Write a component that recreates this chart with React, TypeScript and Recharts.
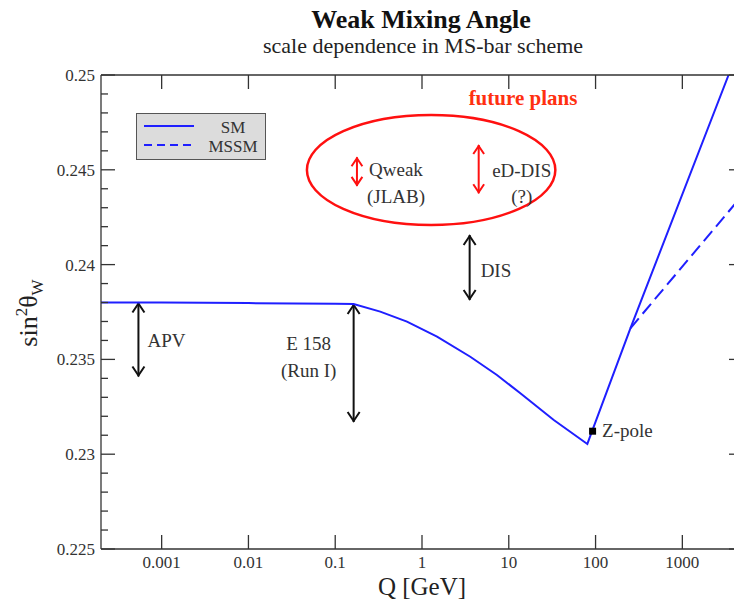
import React from 'react';
import {
  ComposedChart,
  Line,
  Scatter,
  XAxis,
  YAxis,
  ReferenceLine,
  ReferenceArea,
  Legend,
} from 'recharts';

// running sin^2 theta_W (SM)
const smQ = [0.0002, 0.001, 0.01, 0.1, 0.163, 0.33, 0.671, 1.49, 3.6, 7.3, 13.6, 33, 80.4, 91.19, 252, 3410];
const smV = [0.238, 0.238, 0.23797, 0.23793, 0.23792, 0.23752, 0.23699, 0.2362, 0.23514, 0.23418, 0.23321, 0.2318, 0.23054, 0.23122, 0.23664, 0.25];

// MSSM branch above the kink
const mssmQ = [252, 5000];
const mssmV = [0.23664, 0.2437];

// Z-pole point
const zQ = [91.19];
const zV = [0.23124];

// measurement arrows: APV, E158, DIS, Qweak, eD-DIS
const arrowQ = [0.00054, 0.163, 3.54, 0.178, 4.5];
const arrowLo = [0.2341, 0.2317, 0.23813, 0.24415, 0.24376];
const arrowHi = [0.238, 0.23792, 0.24156, 0.24566, 0.24631];

// "future plans" ellipse extent
const planQ = [0.0472, 34.4];
const planV = [0.24209, 0.24789];

const xTicks = [0.001, 0.01, 0.1, 1, 10, 100, 1000];
const xTickLabels = ['0.001', '0.01', '0.1', '1', '10', '100', '1000'];
const yMajor = [0.225, 0.23, 0.235, 0.24, 0.245, 0.25];
const yTickLabels = ['0.225', '0.23', '0.235', '0.24', '0.245', '0.25'];
const yMinor = [
  0.226, 0.227, 0.228, 0.229, 0.231, 0.232, 0.233, 0.234, 0.236, 0.237,
  0.238, 0.239, 0.241, 0.242, 0.243, 0.244, 0.246, 0.247, 0.248, 0.249,
];
const seriesOrder = ['SM', 'MSSM'];

const smData = smQ.map((q, i) => ({ q, v: smV[i] }));
const mssmData = mssmQ.map((q, i) => ({ q, v: mssmV[i] }));
const zData = zQ.map((q, i) => ({ q, v: zV[i] }));

const SERIF = '"Liberation Serif", "Times New Roman", serif';
const BLUE = '#1f1fff';
const RED = '#ff1010';
const INK = '#333';
const X_DOMAIN = [0.0002, 5000];
const Y_DOMAIN = [0.225, 0.25];

// inward frame-tick length (~14px) expressed in axis units
const TICK_DV = 0.00074;
const TICK_QF = 1.45;

type Lbl = { t: string; dx: number; dy: number; anchor: 'start' | 'middle' };

const arrowLabels: Lbl[][] = [
  [{ t: 'APV', dx: 9, dy: 1, anchor: 'start' }],
  [
    { t: 'E 158', dx: -45, dy: -20, anchor: 'middle' },
    { t: '(Run I)', dx: -45, dy: 7, anchor: 'middle' },
  ],
  [{ t: 'DIS', dx: 11, dy: 3, anchor: 'start' }],
  [
    { t: 'Qweak', dx: 39, dy: -2, anchor: 'middle' },
    { t: '(JLAB)', dx: 39, dy: 25, anchor: 'middle' },
  ],
  [
    { t: 'eD-DIS', dx: 43, dy: 1, anchor: 'middle' },
    { t: '(?)', dx: 43, dy: 27, anchor: 'middle' },
  ],
];
const arrowColors = ['#111', '#111', '#111', RED, RED];

const arrowShape = (color: string, labels: Lbl[], head: number) => (p: any) => {
  const x = p.x1;
  const top = Math.min(p.y1, p.y2);
  const bot = Math.max(p.y1, p.y2);
  const mid = (top + bot) / 2;
  return (
    <g>
      <line x1={x} x2={x} y1={top} y2={bot} stroke={color} strokeWidth={2} />
      <polyline
        points={`${x - head * 0.6},${top + head} ${x},${top + 1} ${x + head * 0.6},${top + head}`}
        fill="none"
        stroke={color}
        strokeWidth={2}
      />
      <polyline
        points={`${x - head * 0.6},${bot - head} ${x},${bot - 1} ${x + head * 0.6},${bot - head}`}
        fill="none"
        stroke={color}
        strokeWidth={2}
      />
      {labels.map((l) => (
        <text
          key={l.t}
          x={x + l.dx}
          y={mid + l.dy}
          dy="0.35em"
          textAnchor={l.anchor}
          fontFamily={SERIF}
          fontSize={19}
          fill={INK}
        >
          {l.t}
        </text>
      ))}
    </g>
  );
};

const LeftTick = (props: any) => {
  const { x, y, payload } = props;
  const idx = yMajor.findIndex((m) => Math.abs(m - payload.value) < 1e-9);
  const major = idx >= 0;
  return (
    <g>
      <line x1={x} y1={y} x2={x + (major ? 14 : 7)} y2={y} stroke={INK} strokeWidth={1.3} />
      {major && (
        <text x={x - 6} y={y} dy="0.35em" textAnchor="end" fontFamily={SERIF} fontSize={17} fill={INK}>
          {yTickLabels[idx]}
        </text>
      )}
    </g>
  );
};

const LegendBox = (props: any) => {
  const items = (props.payload || [])
    .filter((e: any) => seriesOrder.includes(e.value))
    .sort((a: any, b: any) => seriesOrder.indexOf(a.value) - seriesOrder.indexOf(b.value));
  return (
    <svg width={130} height={47} style={{ display: 'block' }}>
      <rect x={0.5} y={0.5} width={129} height={46} fill="#dcdcdc" stroke="#555" strokeWidth={1} />
      {items.map((e: any, i: number) => (
        <g key={e.value}>
          <line
            x1={8}
            x2={58}
            y1={13 + i * 19}
            y2={13 + i * 19}
            stroke={BLUE}
            strokeWidth={2}
            strokeDasharray={e.payload && e.payload.strokeDasharray ? '8 5' : undefined}
          />
          <text x={97} y={14 + i * 19} dy="0.33em" textAnchor="middle" fontFamily={SERIF} fontSize={17} fill={INK}>
            {e.value}
          </text>
        </g>
      ))}
    </svg>
  );
};

export default function App() {
  return (
    <div style={{ position: 'fixed', left: 0, top: 0, width: 734, height: 601, overflow: 'hidden', background: '#fff' }}>
      <ComposedChart
        width={744}
        height={601}
        data={smData}
        margin={{ top: 74, right: 0, bottom: 0, left: 0 }}
      >
        <XAxis
          dataKey="q"
          type="number"
          scale="log"
          domain={X_DOMAIN}
          allowDataOverflow
          ticks={xTicks}
          interval={0}
          tickFormatter={(v: number) => xTickLabels[xTicks.indexOf(v)] ?? String(v)}
          height={52}
          tickSize={-14}
          tickMargin={21}
          stroke={INK}
          strokeWidth={1.3}
          tick={{ fontSize: 17, fontFamily: SERIF, fill: INK }}
        />
        <XAxis
          xAxisId="top"
          dataKey="q"
          orientation="top"
          type="number"
          scale="log"
          domain={X_DOMAIN}
          allowDataOverflow
          height={1}
          tick={false}
          tickLine={false}
          stroke={INK}
          strokeWidth={1.3}
        />
        <YAxis
          type="number"
          domain={Y_DOMAIN}
          allowDataOverflow
          ticks={[...yMajor, ...yMinor].sort((a, b) => a - b)}
          interval={0}
          width={101}
          tickSize={0}
          tickMargin={0}
          tickLine={false}
          tick={<LeftTick />}
          stroke={INK}
          strokeWidth={1.3}
        />
        <YAxis
          yAxisId="r"
          dataKey="v"
          orientation="right"
          type="number"
          domain={Y_DOMAIN}
          allowDataOverflow
          width={1}
          tick={false}
          tickLine={false}
          stroke={INK}
          strokeWidth={1.3}
        />

        {/* mirrored major ticks on the top and right frame */}
        {xTicks.map((q) => (
          <ReferenceLine
            key={`tx${q}`}
            segment={[
              { x: q, y: Y_DOMAIN[1] },
              { x: q, y: Y_DOMAIN[1] - TICK_DV },
            ]}
            ifOverflow="visible"
            stroke={INK}
            strokeWidth={1.3}
          />
        ))}
        {yMajor.map((v) => (
          <ReferenceLine
            key={`ty${v}`}
            segment={[
              { x: X_DOMAIN[1], y: v },
              { x: X_DOMAIN[1] / TICK_QF, y: v },
            ]}
            ifOverflow="visible"
            stroke={INK}
            strokeWidth={1.3}
          />
        ))}

        <ReferenceArea
          x1={planQ[0]}
          x2={planQ[1]}
          y1={planV[0]}
          y2={planV[1]}
          ifOverflow="visible"
          shape={(p: any) => (
            <ellipse
              cx={p.x + p.width / 2}
              cy={p.y + p.height / 2}
              rx={p.width / 2}
              ry={p.height / 2}
              fill="none"
              stroke={RED}
              strokeWidth={2.5}
            />
          )}
        />

        {arrowQ.map((q, i) => (
          <ReferenceLine
            key={i}
            segment={[
              { x: q, y: arrowLo[i] },
              { x: q, y: arrowHi[i] },
            ]}
            ifOverflow="visible"
            shape={arrowShape(arrowColors[i], arrowLabels[i], i < 3 ? 10 : 9)}
          />
        ))}

        <Line
          dataKey="v"
          name="SM"
          stroke={BLUE}
          strokeWidth={2}
          dot={false}
          type="linear"
          isAnimationActive={false}
        />
        <Line
          data={mssmData}
          dataKey="v"
          name="MSSM"
          stroke={BLUE}
          strokeWidth={2}
          strokeDasharray="13 6"
          dot={false}
          type="linear"
          isAnimationActive={false}
        />
        <Scatter
          data={zData}
          dataKey="v"
          name="Z"
          legendType="none"
          isAnimationActive={false}
          shape={(p: any) => (
            <g>
              <rect x={p.cx - 3} y={p.cy - 3} width={7} height={7} fill="#000" />
              <text x={p.cx + 10} y={p.cy} dy="0.35em" fontFamily={SERIF} fontSize={19} fill={INK}>
                Z-pole
              </text>
            </g>
          )}
        />

        <Legend
          layout="horizontal"
          verticalAlign="middle"
          align="center"
          content={<LegendBox />}
          wrapperStyle={{ left: 136, top: 113, width: 130, height: 47 }}
        />

        <text x={421} y={28} textAnchor="middle" fontFamily={SERIF} fontSize={26} fontWeight="bold" fill="#111">
          Weak Mixing Angle
        </text>
        <text x={423} y={53} textAnchor="middle" fontFamily={SERIF} fontSize={22} fill="#222">
          scale dependence in MS-bar scheme
        </text>
        <text x={523} y={105} textAnchor="middle" fontFamily={SERIF} fontSize={21} fontWeight="bold" fill="#ff3010">
          future plans
        </text>
        <text x={422} y={595} textAnchor="middle" fontFamily={SERIF} fontSize={25} fill="#222">
          Q [GeV]
        </text>
        <text transform="rotate(-90, 37, 313)" x={37} y={313} textAnchor="middle" fontFamily={SERIF} fontSize={26} fill="#222">
          sin
          <tspan fontSize={17} dy={-10}>2</tspan>
          <tspan dy={10}>θ</tspan>
          <tspan fontSize={17} dy={6}>W</tspan>
        </text>
      </ComposedChart>
    </div>
  );
}
